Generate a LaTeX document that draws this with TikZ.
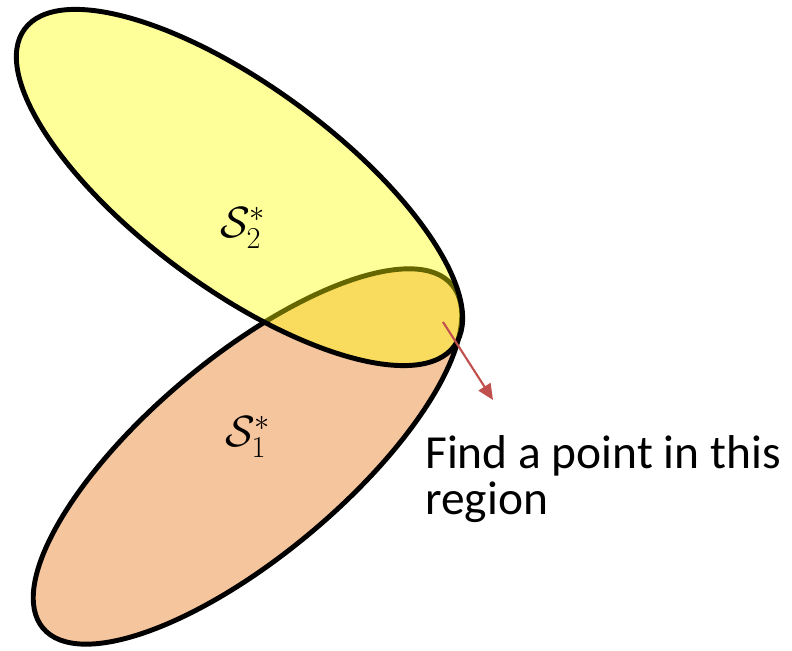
\documentclass[tikz,border=0pt]{standalone}
\usepackage{fontspec}
\setmainfont{Carlito}
\usepackage{xcolor}
\usepackage{tikz}
\usetikzlibrary{arrows.meta,positioning}
\definecolor{setorange}{HTML}{F5C59D}
\definecolor{setyellow}{HTML}{FFFF00}
\definecolor{arrowred}{HTML}{C0504D}

\begin{document}
\begin{tikzpicture}
  \useasboundingbox (0,0) rectangle (15.84,13.02);
  % Set S1 (drawn first, below)
  \draw[line width=2.8pt,fill=setorange] (4.95,3.89) ellipse[x radius=5.34,y radius=1.98,rotate=40];
  % Set S2 (half transparent, on top)
  \draw[line width=2.8pt,fill=setyellow,fill opacity=0.4] (4.79,9.27) ellipse[x radius=5.34,y radius=2.02,rotate=-36.4];
  % Labels
  \node (s2) at (4.86,8.46) {\fontsize{24}{28}\selectfont$\mathcal{S}_2^*$};
  \node (s1) at (4.96,4.28) {\fontsize{24}{28}\selectfont$\mathcal{S}_1^*$};
  % Pointer to the common region
  \coordinate (pt) at (8.86,6.58);
  \node[anchor=base west,align=left,inner sep=0pt,font=\fontsize{27}{26.7}\selectfont] (note) at (8.5,2.72) {Find a point in this\\region};
  \coordinate (tip) at (9.86,5.02);
  \draw[arrowred,line width=1.2pt,-{Triangle[length=9pt,width=8pt]}] (pt) -- (tip);
\end{tikzpicture}
\end{document}
